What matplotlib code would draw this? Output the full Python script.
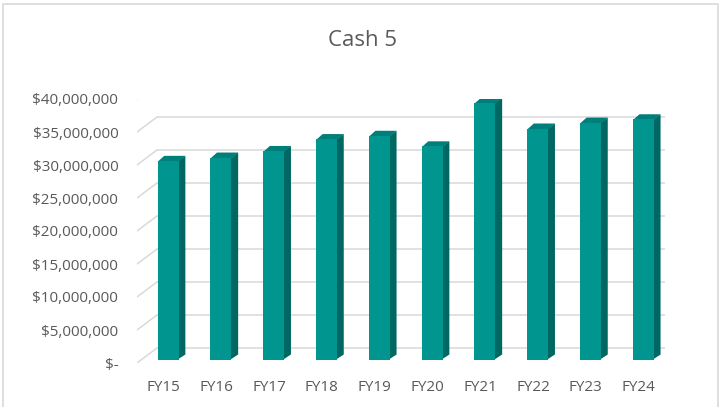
import matplotlib
matplotlib.use("Agg")
import matplotlib.pyplot as plt
from matplotlib.patches import Polygon, Rectangle
from matplotlib.transforms import IdentityTransform, offset_copy

# data
years = ["FY15", "FY16", "FY17", "FY18", "FY19", "FY20", "FY21", "FY22", "FY23", "FY24"]
cash = [30.1e6, 30.6e6, 31.6e6, 33.4e6, 33.9e6, 32.3e6, 38.9e6, 35.0e6, 35.9e6, 36.4e6]
yticks = [0, 5e6, 10e6, 15e6, 20e6, 25e6, 30e6, 35e6, 40e6]

front_col = "#00968f"
side_col = "#006763"
top_col = "#007e79"
grid_col = "#d9d9d9"
text_col = "#595959"

plt.rcParams["font.family"] = ["Open Sans", "DejaVu Sans"]

W, H = 720, 407
fig = plt.figure(figsize=(W / 100, H / 100), dpi=100)
# axes = the front plane of the 3d box
ax = fig.add_axes([137 / W, (H - 363) / H, (665 - 137) / W, (363 - 99) / H])
ax.set_xlim(-0.5, len(years) - 0.5)
ax.set_ylim(0, 40e6)
ax.patch.set_alpha(0)
for s in ax.spines.values():
    s.set_visible(False)

# depth offsets in pixels
back_dx, back_dy = 20, 15      # floor depth
face_dx, face_dy = 4.7, 3.5    # where the bar front faces sit
bar_dx, bar_dy = 6.7, 5.0      # bar depth
bw = 0.4

# back wall gridlines and the slanted floor lines on the left
back = offset_copy(ax.transData, fig, x=back_dx, y=back_dy, units="dots")
for v in yticks:
    ax.plot([-0.5, len(years) - 0.5], [v, v], color=grid_col, lw=1.1,
            transform=back, zorder=1, solid_capstyle="butt")
    x0, y0 = ax.transData.transform((-0.5, v))
    ax.plot([x0, x0 + back_dx], [y0, y0 + back_dy], color=grid_col, lw=1.1,
            transform=IdentityTransform(), zorder=1)

# bars: front face through ax.bar, side and top as polygons (drawn a bit under the face)
face = offset_copy(ax.transData, fig, x=face_dx, y=face_dy, units="dots")
ax.bar(range(len(years)), cash, width=bw, color=front_col, transform=face, zorder=3)
for i, v in enumerate(cash):
    xl, yb = ax.transData.transform((i - bw / 2, 0))
    xr, yt = ax.transData.transform((i + bw / 2, v))
    xl += face_dx; xr += face_dx; yb += face_dy; yt += face_dy
    side = [(xr - 1, yb), (xr - 1, yt - 1), (xr + bar_dx, yt + bar_dy),
            (xr + bar_dx, yb + bar_dy)]
    top = [(xl, yt - 1), (xr, yt - 1), (xr + bar_dx, yt + bar_dy),
           (xl + bar_dx, yt + bar_dy)]
    ax.add_patch(Polygon(side, closed=True, color=side_col, lw=0,
                         transform=IdentityTransform(), zorder=2))
    ax.add_patch(Polygon(top, closed=True, color=top_col, lw=0,
                         transform=IdentityTransform(), zorder=2.5))

ax.set_yticks(yticks)
ax.set_yticklabels(["$-" if v == 0 else f"${v:,.0f}" for v in yticks])
ax.set_xticks(range(len(years)))
ax.set_xticklabels(years)
ax.tick_params(length=0, labelsize=11, labelcolor=text_col)
ax.tick_params(axis="y", pad=13.5)
ax.tick_params(axis="x", pad=12)

fig.text(363 / W, 1 - 41 / H, "Cash 5", ha="center", va="center",
         fontsize=16, color=text_col)

# chart area border
fig.add_artist(Rectangle((3 / W, -0.01), 715 / W, 1 - 4 / H + 0.01,
                         transform=fig.transFigure, fill=False,
                         edgecolor=grid_col, lw=1.2))

fig.savefig("out.png", dpi=100)
